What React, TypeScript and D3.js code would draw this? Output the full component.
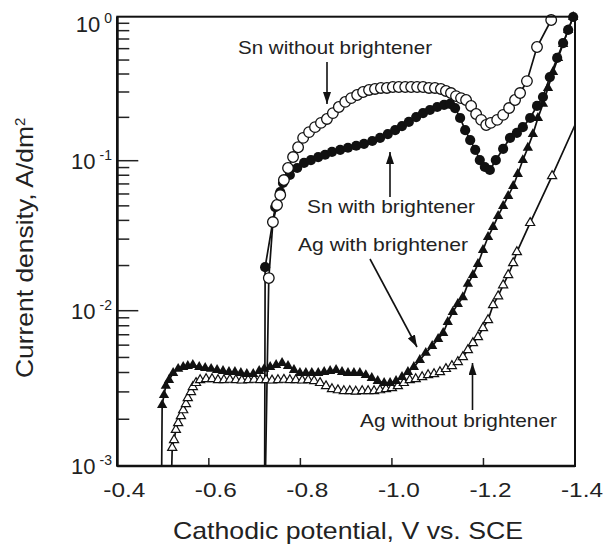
import React from 'react';
import * as d3 from 'd3';

// ---- axis ticks ----
const xTicks = [-0.4, -0.6, -0.8, -1.0, -1.2, -1.4];
const xTickLabels = ['-0.4', '-0.6', '-0.8', '-1.0', '-1.2', '-1.4'];
const yDecades = [1, 0.1, 0.01, 0.001];
const yExponents = ['0', '-1', '-2', '-3'];

// ---- series: [potential V vs SCE, current density A/dm2] ----
const snWithout: [number, number][] = [
  [-0.724, 0.001], [-0.731, 0.0165], [-0.740, 0.039], [-0.749, 0.0507], [-0.756, 0.059],
  [-0.764, 0.0743], [-0.773, 0.0894], [-0.784, 0.106], [-0.795, 0.124], [-0.806, 0.144],
  [-0.819, 0.158], [-0.832, 0.171], [-0.845, 0.183], [-0.858, 0.195], [-0.871, 0.214],
  [-0.884, 0.236], [-0.898, 0.256], [-0.911, 0.272], [-0.924, 0.286], [-0.937, 0.300],
  [-0.950, 0.310], [-0.963, 0.315], [-0.976, 0.320], [-0.989, 0.320], [-1.002, 0.325],
  [-1.015, 0.325], [-1.029, 0.325], [-1.042, 0.325], [-1.055, 0.325], [-1.068, 0.325],
  [-1.081, 0.320], [-1.094, 0.320], [-1.107, 0.315], [-1.118, 0.305], [-1.129, 0.295],
  [-1.140, 0.281], [-1.151, 0.272], [-1.162, 0.264], [-1.173, 0.240], [-1.184, 0.211],
  [-1.195, 0.192], [-1.206, 0.177], [-1.216, 0.183], [-1.230, 0.192], [-1.243, 0.208],
  [-1.256, 0.232], [-1.269, 0.264], [-1.280, 0.295], [-1.295, 0.357], [-1.317, 0.616],
  [-1.348, 0.948], [-1.358, 1.04],
];

const snWith: [number, number][] = [
  [-0.722, 0.001], [-0.723, 0.0195], [-0.745, 0.0491], [-0.756, 0.0618], [-0.762, 0.071],
  [-0.777, 0.0803], [-0.793, 0.0894], [-0.808, 0.0966], [-0.823, 0.101], [-0.839, 0.106],
  [-0.854, 0.110], [-0.869, 0.115], [-0.887, 0.119], [-0.904, 0.123], [-0.922, 0.127],
  [-0.939, 0.131], [-0.957, 0.137], [-0.974, 0.144], [-0.991, 0.153], [-1.007, 0.163],
  [-1.022, 0.174], [-1.037, 0.186], [-1.053, 0.201], [-1.068, 0.214], [-1.083, 0.225],
  [-1.099, 0.236], [-1.114, 0.244], [-1.127, 0.248], [-1.138, 0.232], [-1.149, 0.198],
  [-1.160, 0.163], [-1.171, 0.139], [-1.182, 0.119], [-1.192, 0.101], [-1.203, 0.0908],
  [-1.214, 0.0867], [-1.227, 0.101], [-1.243, 0.121], [-1.258, 0.144], [-1.273, 0.156],
  [-1.286, 0.171], [-1.302, 0.198], [-1.317, 0.240], [-1.330, 0.277], [-1.345, 0.381],
  [-1.361, 0.517], [-1.374, 0.656], [-1.385, 0.809], [-1.396, 0.995],
];

const agWith: [number, number][] = [
  [-0.497, 0.001], [-0.498, 0.00247], [-0.502, 0.00286], [-0.506, 0.00328], [-0.513, 0.00358],
  [-0.522, 0.00397], [-0.533, 0.00422], [-0.544, 0.00434], [-0.554, 0.00441], [-0.565, 0.00447],
  [-0.579, 0.00434], [-0.592, 0.00428], [-0.605, 0.00422], [-0.618, 0.00415], [-0.631, 0.00409],
  [-0.644, 0.00403], [-0.657, 0.00403], [-0.670, 0.00397], [-0.683, 0.00391], [-0.697, 0.00391],
  [-0.710, 0.00409], [-0.721, 0.00422], [-0.734, 0.00434], [-0.747, 0.00447], [-0.760, 0.00460],
  [-0.773, 0.00441], [-0.786, 0.00415], [-0.799, 0.00397], [-0.812, 0.00397], [-0.825, 0.00397],
  [-0.839, 0.00397], [-0.852, 0.00403], [-0.865, 0.00409], [-0.878, 0.00415], [-0.891, 0.00403],
  [-0.904, 0.00397], [-0.917, 0.00397], [-0.930, 0.00397], [-0.943, 0.00385], [-0.956, 0.00369],
  [-0.969, 0.00353], [-0.983, 0.00342], [-0.996, 0.00342], [-1.009, 0.00353], [-1.022, 0.00374],
  [-1.035, 0.00403], [-1.048, 0.00434], [-1.061, 0.00482], [-1.074, 0.00535], [-1.088, 0.00593],
  [-1.101, 0.00658], [-1.112, 0.00718], [-1.122, 0.00846], [-1.133, 0.00981], [-1.144, 0.0111],
  [-1.155, 0.0123], [-1.166, 0.0151], [-1.177, 0.0173], [-1.188, 0.0205], [-1.199, 0.0254],
  [-1.210, 0.0310], [-1.221, 0.0361], [-1.232, 0.0428], [-1.243, 0.0499], [-1.254, 0.0582],
  [-1.265, 0.0678], [-1.275, 0.0815], [-1.286, 0.101], [-1.297, 0.123], [-1.308, 0.153],
  [-1.319, 0.198], [-1.330, 0.248], [-1.341, 0.320], [-1.352, 0.413], [-1.363, 0.517],
  [-1.374, 0.646], [-1.385, 0.809], [-1.396, 0.995],
];

const agWithout: [number, number][] = [
  [-0.519, 0.001], [-0.520, 0.00131], [-0.524, 0.00147], [-0.528, 0.00171], [-0.533, 0.00189],
  [-0.539, 0.00210], [-0.544, 0.00229], [-0.550, 0.00251], [-0.554, 0.00274], [-0.561, 0.00300],
  [-0.565, 0.00323], [-0.572, 0.00343], [-0.581, 0.00358], [-0.594, 0.00363], [-0.607, 0.00363],
  [-0.620, 0.00358], [-0.633, 0.00358], [-0.646, 0.00360], [-0.659, 0.00358], [-0.672, 0.00356],
  [-0.686, 0.00358], [-0.699, 0.00360], [-0.712, 0.00358], [-0.725, 0.00358], [-0.738, 0.00356],
  [-0.751, 0.00358], [-0.764, 0.00360], [-0.777, 0.00358], [-0.790, 0.00358], [-0.804, 0.00356],
  [-0.817, 0.00358], [-0.830, 0.00353], [-0.843, 0.00343], [-0.856, 0.00327], [-0.869, 0.00313],
  [-0.882, 0.00308], [-0.895, 0.00304], [-0.908, 0.00304], [-0.921, 0.00302], [-0.935, 0.00304],
  [-0.948, 0.00304], [-0.961, 0.00304], [-0.974, 0.00308], [-0.987, 0.00313], [-1.000, 0.00318],
  [-1.013, 0.00327], [-1.026, 0.00343], [-1.039, 0.00358], [-1.052, 0.00363], [-1.066, 0.00374],
  [-1.079, 0.00385], [-1.092, 0.00391], [-1.105, 0.00403], [-1.118, 0.00422], [-1.131, 0.00441],
  [-1.144, 0.00468], [-1.155, 0.00504], [-1.166, 0.00558], [-1.177, 0.00619], [-1.188, 0.00677],
  [-1.199, 0.00774], [-1.210, 0.00871], [-1.221, 0.0109], [-1.232, 0.0125], [-1.243, 0.0148],
  [-1.254, 0.0173], [-1.265, 0.0208], [-1.273, 0.0246], [-1.302, 0.0385], [-1.350, 0.0791],
  [-1.404, 0.189],
];

const FONT = '"Liberation Sans", Arial, Helvetica, sans-serif';

export default function App() {
  const W = 604, H = 545;
  const L = 117.3, R = 575, T = 16.7, B = 466;
  const x = d3.scaleLinear().domain([-0.4, -1.4]).range([L, R]);
  const y = d3.scaleLog().domain([1e-3, 1e-2, 1e-1, 1]).range([B, 310.7, 160.7, T]);
  const line = d3.line<[number, number]>().x(d => x(d[0])).y(d => y(d[1]));
  const inside = (d: [number, number]) => d[1] > 0.0011 && d[1] <= 1 && d[0] >= -1.4;

  const allTicks = y.ticks();
  const isMajor = (v: number) => Math.abs(Math.log10(v) - Math.round(Math.log10(v))) < 1e-6;
  const yMinor = allTicks.filter(v => !isMajor(v));
  const yMajorInner = allTicks.filter(v => isMajor(v) && v > 1e-3 && v < 1);

  const triBig = d3.symbol(d3.symbolTriangle, 46)()!;
  const triSmall = d3.symbol(d3.symbolTriangle, 36)()!;

  const arrows = [
    { x1: 327, y1: 62, x2: 327, y2: 104 },
    { x1: 390, y1: 197, x2: 390, y2: 152 },
    { x1: 370, y1: 259, x2: 417, y2: 347 },
    { x1: 472.5, y1: 410, x2: 472.5, y2: 363 },
  ];

  const labels = [
    { text: 'Sn without brightener', x: 238, y: 54, len: 194 },
    { text: 'Sn with brightener', x: 307, y: 213, len: 168 },
    { text: 'Ag with brightener', x: 298, y: 251, len: 170 },
    { text: 'Ag without brightener', x: 360, y: 427, len: 197 },
  ];

  return (
    <svg width={W} height={H} style={{ position: 'absolute', left: 0, top: 0, background: '#fff' }}
      fontFamily={FONT}>
      <defs>
        <clipPath id="plot">
          <rect x={L} y={T} width={R - L} height={B - T} />
        </clipPath>
        <marker id="ah" viewBox="0 0 12 8" refX="12" refY="4" markerWidth="12" markerHeight="8"
          markerUnits="userSpaceOnUse" orient="auto">
          <path d="M0,0 L12,4 L0,8 Z" fill="#111" />
        </marker>
      </defs>
      <rect x={0} y={0} width={W} height={H} fill="#fff" />

      {/* y ticks */}
      {yMinor.map((v, i) => (
        <line key={'ym' + i} x1={L} x2={L + 12} y1={y(v)} y2={y(v)} stroke="#222" strokeWidth={1.5} />
      ))}
      {yMajorInner.map((v, i) => (
        <line key={'yM' + i} x1={L} x2={L + 21} y1={y(v)} y2={y(v)} stroke="#222" strokeWidth={1.5} />
      ))}
      {/* x ticks */}
      {xTicks.slice(1, -1).map((v, i) => (
        <line key={'xt' + i} x1={x(v)} x2={x(v)} y1={B} y2={B - 8} stroke="#222" strokeWidth={1.5} />
      ))}

      {/* series lines */}
      <g clipPath="url(#plot)" fill="none" stroke="#111" strokeWidth={1.7}>
        <path d={line(agWithout)!} />
        <path d={line(agWith)!} />
        <path d={line(snWith)!} />
        <path d={line(snWithout)!} />
      </g>

      {/* markers */}
      <g>
        {agWithout.filter(inside).map((d, i) => (
          <path key={'aw' + i} d={triSmall} transform={`translate(${x(d[0])},${y(d[1])})`}
            fill="#fff" stroke="#111" strokeWidth={1.2} />
        ))}
        {agWith.filter(inside).map((d, i) => (
          <path key={'ab' + i} d={triBig} transform={`translate(${x(d[0])},${y(d[1])})`} fill="#111" />
        ))}
        {snWith.filter(inside).map((d, i) => (
          <circle key={'sb' + i} cx={x(d[0])} cy={y(d[1])} r={5.1} fill="#111" />
        ))}
        {snWithout.filter(inside).map((d, i) => (
          <circle key={'sw' + i} cx={x(d[0])} cy={y(d[1])} r={5.3} fill="#fff" stroke="#111" strokeWidth={1.3} />
        ))}
      </g>

      {/* frame */}
      <rect x={L} y={T} width={R - L} height={B - T} fill="none" stroke="#111" strokeWidth={2} />
      <line x1={L} x2={L} y1={T} y2={B} stroke="#111" strokeWidth={2.6} />
      <line x1={L} x2={R} y1={B} y2={B} stroke="#111" strokeWidth={2.4} />

      {/* x tick labels */}
      {xTicks.map((v, i) => (
        <text key={'xl' + i} x={x(v) + 7} y={497} fontSize={21} textAnchor="middle" fill="#222"
          textLength={42} lengthAdjust="spacingAndGlyphs">{xTickLabels[i]}</text>
      ))}

      {/* y tick labels */}
      {yDecades.map((v, i) => (
        <text key={'yl' + i} x={112} y={Math.max(y(v) + 8, T + 15)} textAnchor="end" fill="#222" fontSize={22}>
          <tspan>10</tspan>
          <tspan dx={4} dy={-9} fontSize={14}>{yExponents[i]}</tspan>
        </text>
      ))}

      {/* axis titles */}
      <text x={173} y={539} fontSize={24} fill="#222" textLength={350} lengthAdjust="spacingAndGlyphs">
        Cathodic potential, V vs. SCE
      </text>
      <text transform="translate(33,378) rotate(-90)" fontSize={24} fill="#222">
        <tspan textLength={252} lengthAdjust="spacingAndGlyphs">Current density, A/dm</tspan>
        <tspan dy={-8} fontSize={15}>2</tspan>
      </text>

      {/* annotations */}
      {arrows.map((a, i) => (
        <line key={'ar' + i} x1={a.x1} y1={a.y1} x2={a.x2} y2={a.y2} stroke="#111" strokeWidth={1.6}
          markerEnd="url(#ah)" />
      ))}
      {labels.map((l, i) => (
        <text key={'lb' + i} x={l.x} y={l.y} fontSize={19} fill="#222" textLength={l.len}
          lengthAdjust="spacingAndGlyphs">{l.text}</text>
      ))}
    </svg>
  );
}
